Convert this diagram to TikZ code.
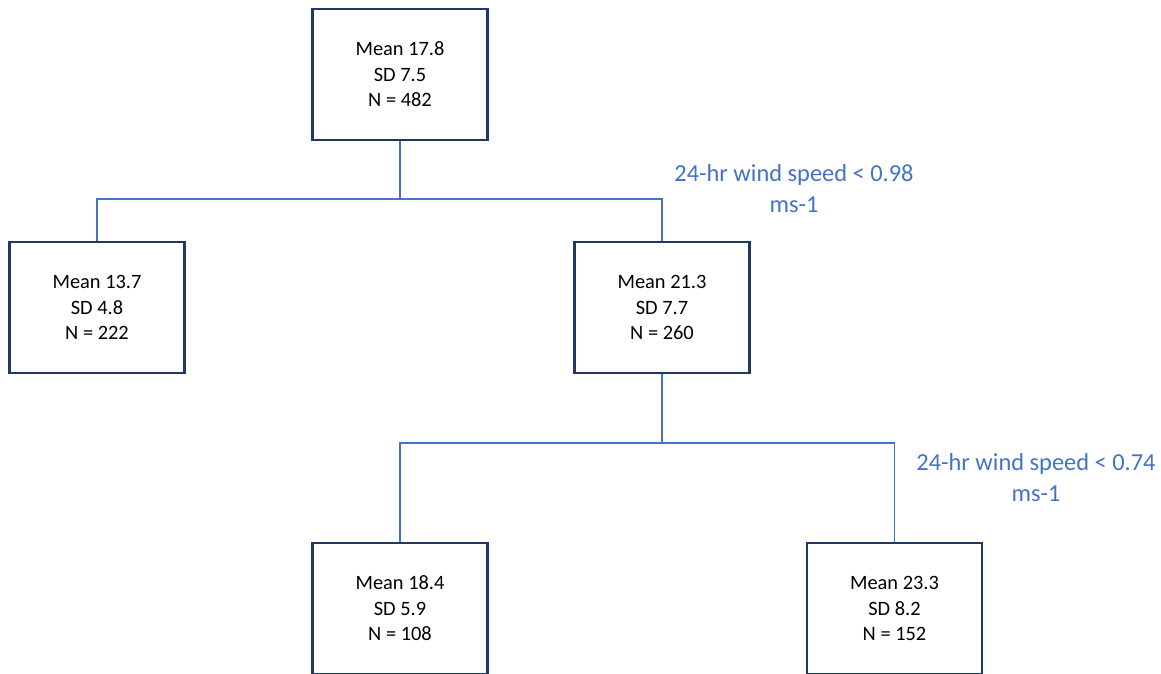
\documentclass[tikz,border=0pt]{standalone}
\usepackage{fontspec}
\setmainfont{Carlito}
\definecolor{boxnavy}{HTML}{203864}
\definecolor{linkblue}{HTML}{4472C4}
\begin{document}
\begin{tikzpicture}[x=1pt,y=-1pt,
  box/.style={draw=boxnavy, line width=2.2pt, fill=white, minimum width=175pt, minimum height=131pt,
    inner sep=0pt, align=center, font=\fontsize{20.4}{25.5}\selectfont},
  link/.style={draw=linkblue, line width=1.6pt},
  split/.style={text=linkblue, align=center, font=\fontsize{24.4}{31}\selectfont}]
\useasboundingbox (0,0) rectangle (1161,673);
\node[box] (root) at (400,74.5) {Mean 17.8\\SD 7.5\\N = 482};
\node[box] (left) at (97,307.5) {Mean 13.7\\SD 4.8\\N = 222};
\node[box] (right) at (662,307.5) {Mean 21.3\\SD 7.7\\N = 260};
\node[box] (bl) at (400,608.5) {Mean 18.4\\SD 5.9\\N = 108};
\node[box] (br) at (894.5,608.5) {Mean 23.3\\SD 8.2\\N = 152};
\coordinate (j1) at (400,199);
\coordinate (j2) at (662,443);
\draw[link] (root.south) -- (j1);
\draw[link] (left.north) |- (j1) -| (right.north);
\draw[link] (right.south) -- (j2);
\draw[link] (bl.north) |- (j2) -| (br.north);
\node[split] (lab1) at (794,189) {24-hr wind speed < 0.98\\ms-1};
\node[split] (lab2) at (1036,478) {24-hr wind speed < 0.74\\ms-1};
\end{tikzpicture}
\end{document}
